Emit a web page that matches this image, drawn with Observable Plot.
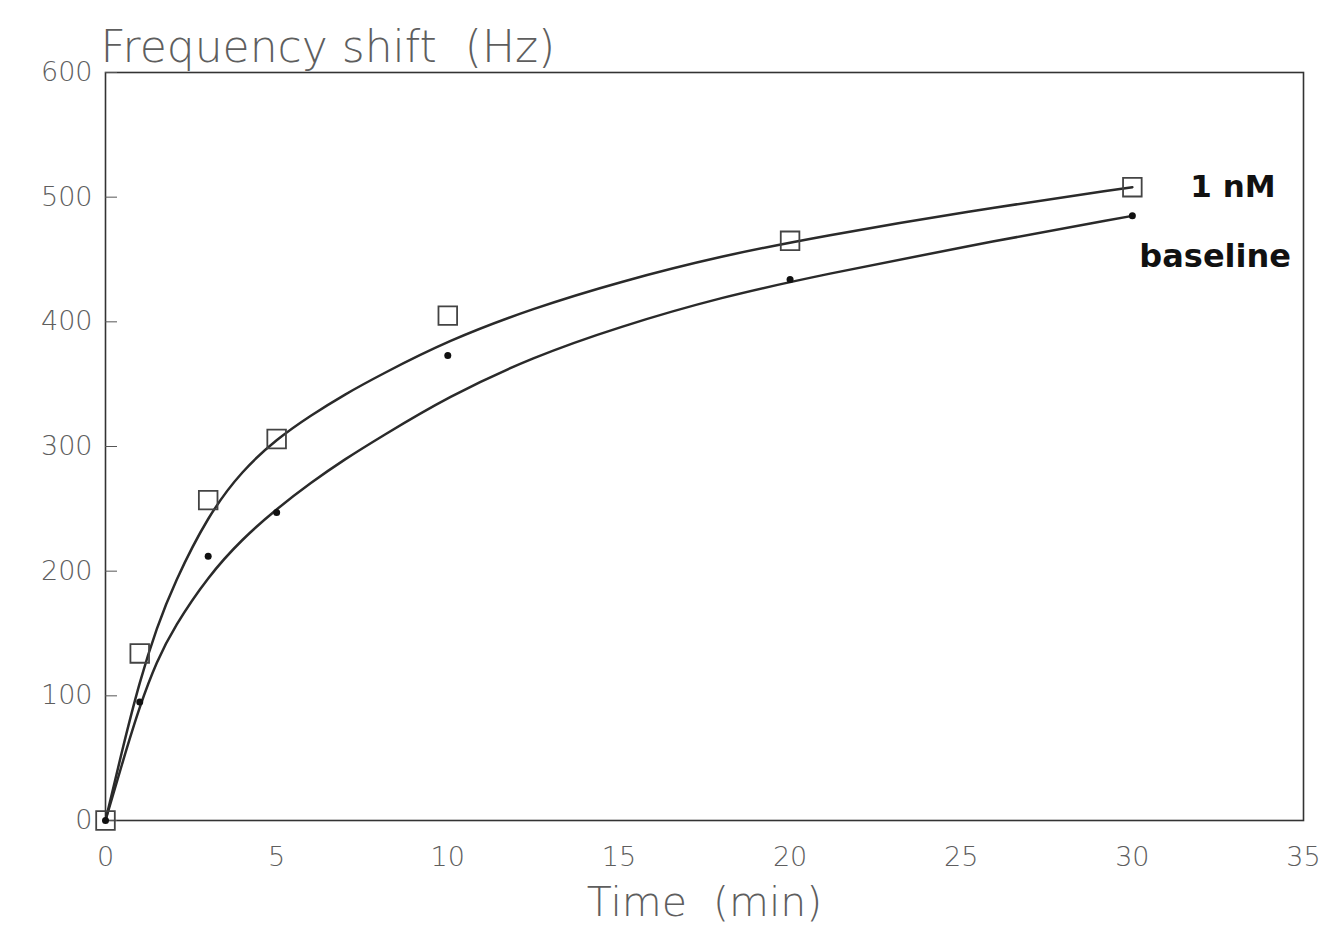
<!DOCTYPE html>
<html>
<head>
<meta charset="utf-8">
<script src="https://cdn.jsdelivr.net/npm/d3@7"></script>
<script src="https://cdn.jsdelivr.net/npm/@observablehq/plot@0.6"></script>
<style>
  html, body { margin: 0; padding: 0; background: #fff; }
</style>
</head>
<body>
<div id="chart"></div>
<script>
// Measured points
const times = [0, 1, 3, 5, 10, 20, 30];
const nM1 = [0, 134, 257, 306, 405, 465, 508];
const baseline = [0, 95, 212, 247, 373, 434, 485];

// Fitted curves
const fitTime = [0, 0.5, 1, 1.5, 2, 3, 4, 5, 6, 7, 8, 10, 12.5, 15, 18, 21, 25, 30];
const fit1nM  = [0, 58, 112, 155, 190, 245, 281, 306, 325, 342, 357, 385, 411, 432, 453, 469, 488, 508];
const fitBase = [0, 47, 92, 128, 155, 196, 226, 250, 271, 290, 307, 340, 372, 396, 420, 438, 460, 485];

const xTicks = [0, 5, 10, 15, 20, 25, 30, 35];
const yTicks = [0, 100, 200, 300, 400, 500, 600];
const seriesLabels = ["1 nM", "baseline"];
const yTitle = "Frequency shift  (Hz)";
const xTitle = "Time  (min)";

const pts1 = times.map((t, i) => ({t, v: nM1[i]}));
const ptsB = times.map((t, i) => ({t, v: baseline[i]}));
const fit1 = fitTime.map((t, i) => ({t, v: fit1nM[i]}));
const fitB = fitTime.map((t, i) => ({t, v: fitBase[i]}));

const ink = "#2a2a2a";
const gray = "#5e5e5e";
const light = "'DejaVu Sans', 'Liberation Sans', sans-serif";

const chart = Plot.plot({
  width: 1323,
  height: 925,
  marginLeft: 105,
  marginRight: 20,
  marginTop: 72,
  marginBottom: 105,
  style: {fontFamily: light, background: "#fff"},
  x: {domain: [0, 35]},
  y: {domain: [0, 600]},
  marks: [
    Plot.frame({stroke: "#333", strokeWidth: 1.6}),
    Plot.axisY(yTicks, {
      tickSize: -12, tickPadding: 25, fontSize: 27, fill: gray, stroke: "#555",
      fontWeight: 200, label: null, tickFormat: d => d
    }),
    Plot.axisX(xTicks, {
      tickSize: 0, tickPadding: 26, fontSize: 27, fill: gray, fontWeight: 200,
      label: null, tickFormat: d => d
    }),
    Plot.text([yTitle], {frameAnchor: "top-left", text: d => d, dy: -42, dx: -5, textAnchor: "start", fontSize: 44, fontWeight: 200, fill: gray}),
    Plot.text([xTitle], {frameAnchor: "bottom", text: d => d, dy: 95, fontSize: 41, fontWeight: 200, fill: gray}),
    Plot.line(fit1, {x: "t", y: "v", curve: "basis", stroke: ink, strokeWidth: 2.5}),
    Plot.line(fitB, {x: "t", y: "v", curve: "basis", stroke: ink, strokeWidth: 2.5}),
    Plot.dot(pts1, {x: "t", y: "v", symbol: "square", r: 10.5, stroke: "#444", strokeWidth: 1.8, fill: "none"}),
    Plot.dot(ptsB, {x: "t", y: "v", r: 3.5, fill: "#111", stroke: "none"}),
    Plot.text([pts1[pts1.length - 1]], {x: "t", y: "v", text: () => seriesLabels[0], dx: 58, textAnchor: "start", fontFamily: "'DejaVu Sans', sans-serif", fontSize: 31, fontWeight: "bold", fill: "#111"}),
    Plot.text([ptsB[ptsB.length - 1]], {x: "t", y: "v", text: () => seriesLabels[1], dx: 7, dy: 41, textAnchor: "start", fontFamily: "'DejaVu Sans', sans-serif", fontSize: 32, fontWeight: "bold", fill: "#111"})
  ]
});
document.getElementById("chart").append(chart);
</script>
</body>
</html>
